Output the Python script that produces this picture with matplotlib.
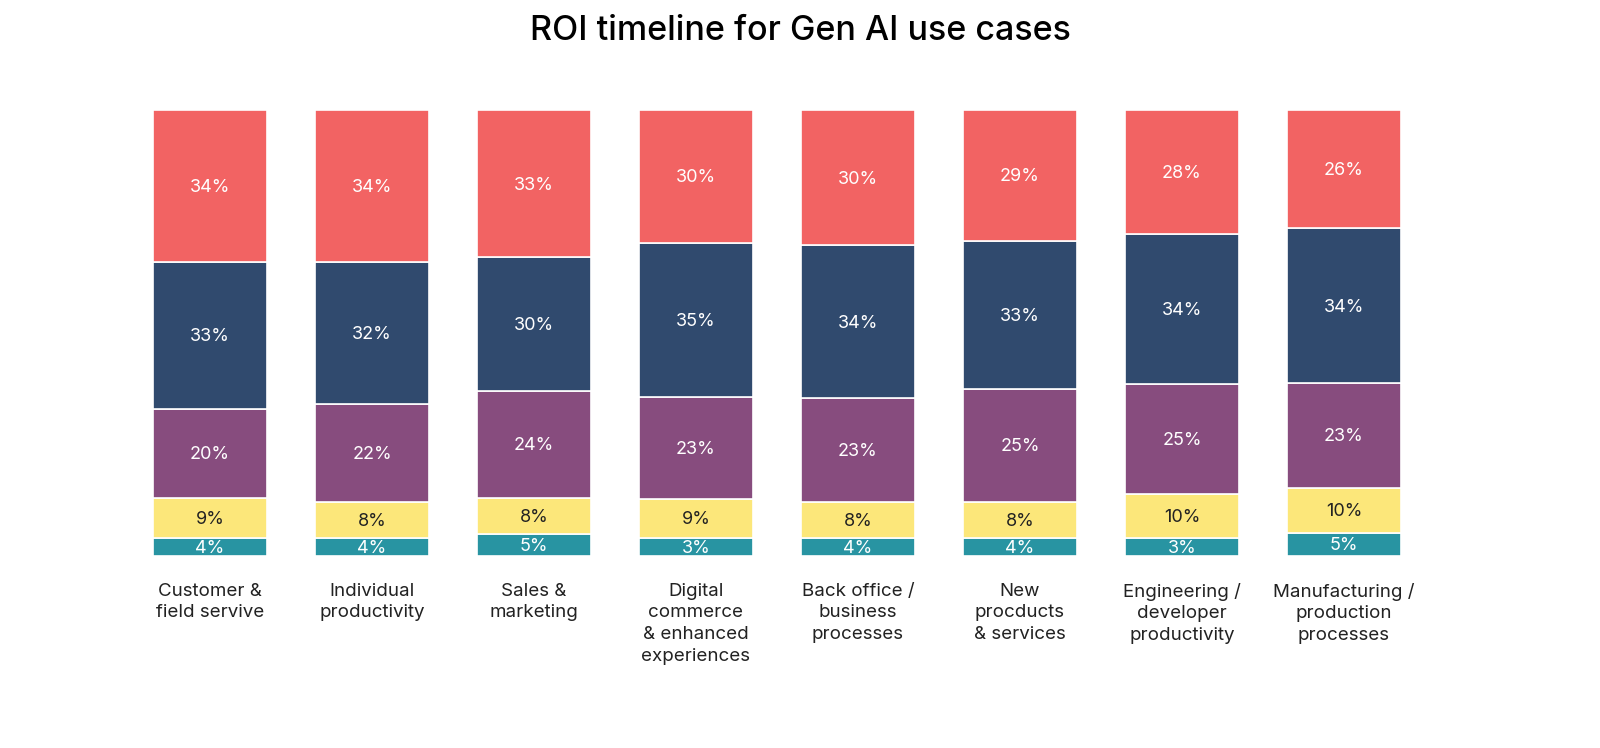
import numpy as np
import matplotlib
matplotlib.use('Agg')
import matplotlib.pyplot as plt

plt.rcParams['font.family'] = ['Inter', 'DejaVu Sans']

# Data (bottom segment first)
categories = ['Customer &\nfield servive', 'Individual\nproductivity', 'Sales &\nmarketing',
              'Digital\ncommerce\n& enhanced\nexperiences', 'Back office /\nbusiness\nprocesses',
              'New\nprocducts\n& services', 'Engineering /\ndeveloper\nproductivity',
              'Manufacturing /\nproduction\nprocesses']
teal = [4, 4, 5, 3, 4, 4, 3, 5]
yellow = [9, 8, 8, 9, 8, 8, 10, 10]
purple = [20, 22, 24, 23, 23, 25, 25, 23]
navy = [33, 32, 30, 35, 34, 33, 34, 34]
red = [34, 34, 33, 30, 30, 29, 28, 26]

series = [teal, yellow, purple, navy, red]
colors = ['#2894A2', '#FCE77A', '#874C7E', '#304A6E', '#F26363']
text_colors = ['white', '#222222', 'white', 'white', 'white']

fig = plt.figure(figsize=(16, 7.48), dpi=100)
ax = fig.add_axes([0.0806, 0.2567, 0.81, 0.596])

vals = np.array(series, dtype=float)
# small segments are drawn with a minimum size so the label fits
shown = np.maximum(vals, 4)
totals = shown.sum(axis=0)
x = np.arange(len(categories))
bottom = np.zeros(len(categories))
for s, sh, c, tc in zip(vals, shown, colors, text_colors):
    h = sh / totals
    ax.bar(x, h, bottom=bottom, width=0.70, color=c, edgecolor='white', linewidth=1.2)
    for xi, hi, bi, v in zip(x, h, bottom, s):
        ax.text(xi, bi + hi / 2 - 0.003, f'{int(v)}%', ha='center', va='center',
                color=tc, fontsize=13)
    bottom += h

ax.set_xlim(-0.5, len(categories) - 0.5)
ax.set_ylim(0, 1)
ax.axis('off')

for xi, lab in zip(x, categories):
    ax.text(xi, -0.060, lab, ha='center', va='top', fontsize=13.5,
            color='#222222', linespacing=1.36)

fig.text(0.5, 0.958, 'ROI timeline for Gen AI use cases', ha='center', va='center',
         fontsize=24.5, fontweight='medium', color='black')

fig.savefig('out.png', dpi=100, facecolor='white')
